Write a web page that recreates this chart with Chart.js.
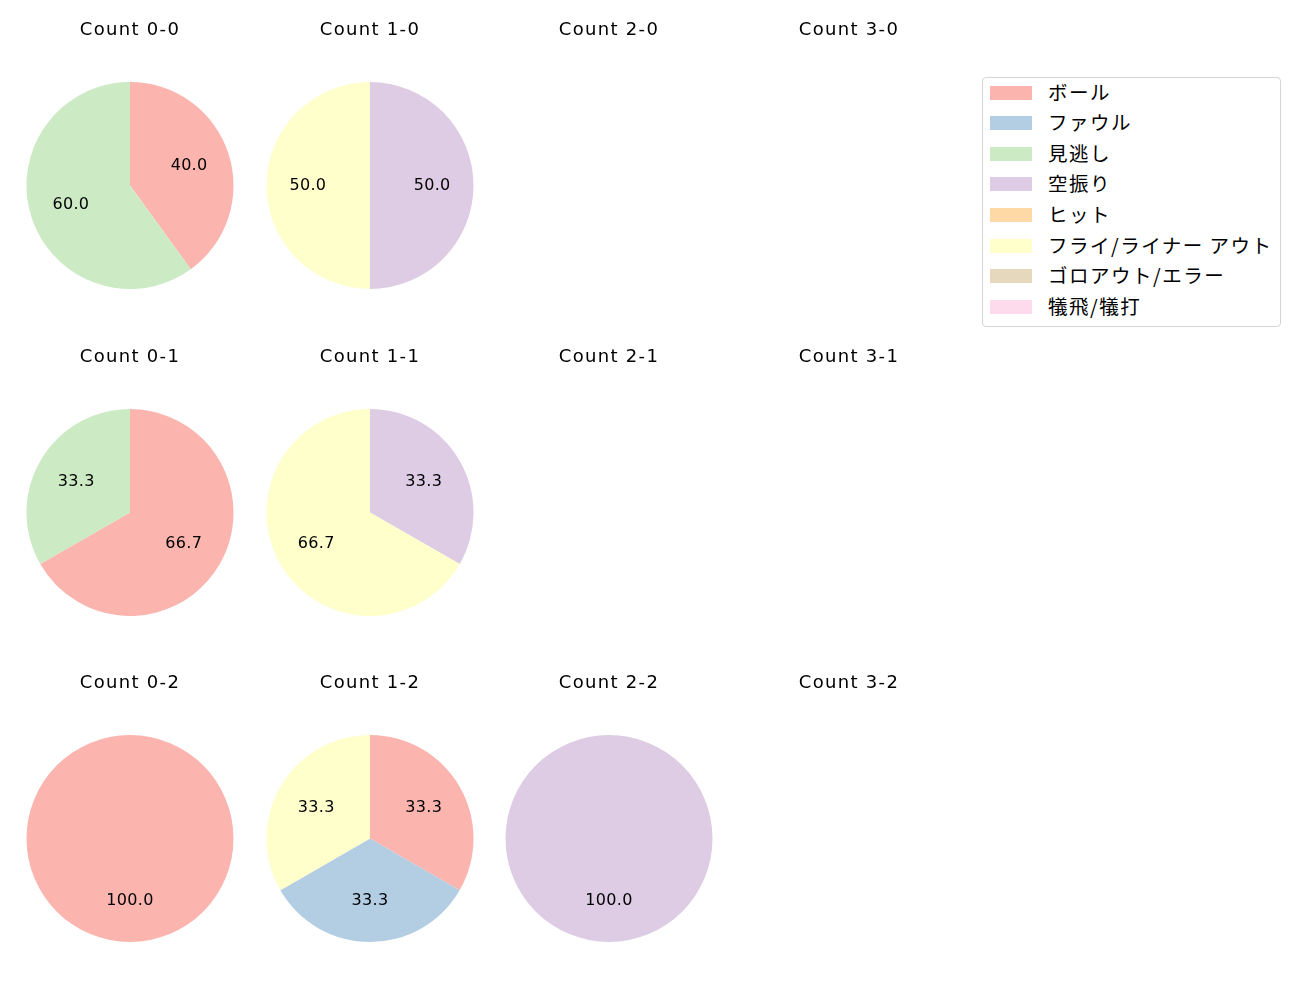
<!DOCTYPE html>
<html>
<head>
<meta charset="utf-8">
<script src="https://cdn.jsdelivr.net/npm/chart.js@4"></script>
<style>
  body { margin: 0; background: #fff; width: 1300px; height: 1000px; position: relative; overflow: hidden; font-family: "Noto Sans CJK JP", sans-serif; }
  .cell { position: absolute; width: 240px; height: 280px; }
  #legend { position: absolute; left: 982px; top: 77px; width: 297px; height: 248px; border: 1px solid #d5d5d5; border-radius: 4px; box-sizing: content-box; }
  .item { position: absolute; left: 7px; height: 24px; font-size: 19.5px; letter-spacing: 1.5px; color: #000; line-height: 24px; white-space: nowrap; }
  .item span.sw { position: absolute; left: 0; top: 6px; width: 42px; height: 14px; }
  .item span.tx { position: absolute; left: 58px; top: 0; }
</style>
</head>
<body>
<div id="legend"></div>
<script>
const categories = ['ボール', 'ファウル', '見逃し', '空振り', 'ヒット', 'フライ/ライナー アウト', 'ゴロアウト/エラー', '犠飛/犠打'];
const colors = ['#fbb4ae', '#b3cde3', '#ccebc5', '#decbe4', '#fed9a6', '#ffffcc', '#e5d8bd', '#fddaec'];
const counts = ['0-0', '1-0', '2-0', '3-0', '0-1', '1-1', '2-1', '3-1', '0-2', '1-2', '2-2', '3-2'];

// percentages per count, same order as counts
const ball      = [40.0, 0, 0, 0, 66.7, 0, 0, 0, 100.0, 33.3, 0, 0];
const foul      = [0, 0, 0, 0, 0, 0, 0, 0, 0, 33.3, 0, 0];
const looking   = [60.0, 0, 0, 0, 33.3, 0, 0, 0, 0, 0, 0, 0];
const swinging  = [0, 50.0, 0, 0, 0, 33.3, 0, 0, 0, 0, 100.0, 0];
const hit       = [0, 0, 0, 0, 0, 0, 0, 0, 0, 0, 0, 0];
const flyOut    = [0, 50.0, 0, 0, 0, 66.7, 0, 0, 0, 33.3, 0, 0];
const groundOut = [0, 0, 0, 0, 0, 0, 0, 0, 0, 0, 0, 0];
const sacrifice = [0, 0, 0, 0, 0, 0, 0, 0, 0, 0, 0, 0];
const series = [ball, foul, looking, swinging, hit, flyOut, groundOut, sacrifice];

const latin = '"DejaVu Sans", sans-serif';

// wider title lettering, like the reference font
const spacing = {
  id: 'spacing',
  beforeDraw(chart) { chart.ctx.letterSpacing = '1.3px'; }
};

const pctLabels = {
  id: 'pctLabels',
  afterDatasetsDraw(chart) {
    const ctx = chart.ctx;
    const meta = chart.getDatasetMeta(0);
    const data = chart.data.datasets[0].data;
    ctx.save();
    ctx.letterSpacing = '0.3px';
    ctx.font = '16px ' + latin;
    ctx.fillStyle = '#000';
    ctx.textAlign = 'center';
    ctx.textBaseline = 'middle';
    meta.data.forEach((arc, i) => {
      if (!data[i]) return;
      const p = arc.getProps(['x', 'y', 'startAngle', 'endAngle', 'outerRadius'], true);
      const mid = (p.startAngle + p.endAngle) / 2;
      const r = p.outerRadius * 0.6;
      ctx.fillText(data[i].toFixed(1), p.x + Math.cos(mid) * r, p.y + Math.sin(mid) * r);
    });
    ctx.restore();
  }
};

const colX = [10, 249.5, 489, 729];
const rowY = [10, 337, 663];

counts.forEach((c, k) => {
  const div = document.createElement('div');
  div.className = 'cell';
  div.style.left = colX[k % 4] + 'px';
  div.style.top = rowY[Math.floor(k / 4)] + 'px';
  const cv = document.createElement('canvas');
  div.appendChild(cv);
  document.body.appendChild(div);
  const vals = series.map(s => s[k]);
  const empty = vals.every(v => v === 0);
  new Chart(cv, {
    type: 'pie',
    data: {
      labels: categories,
      datasets: [{
        data: empty ? [] : vals,
        backgroundColor: colors,
        borderWidth: 0
      }]
    },
    options: {
      responsive: true,
      maintainAspectRatio: false,
      animation: false,
      events: [],
      layout: { padding: { left: 16.5, right: 16.5, top: 0, bottom: 1 } },
      plugins: {
        legend: { display: false },
        tooltip: { enabled: false },
        title: {
          display: true,
          text: 'Count ' + c,
          color: '#000',
          font: { family: latin, size: 18, weight: 'normal', lineHeight: 1.2 },
          padding: { top: 9.5, bottom: 40.9 }
        }
      }
    },
    plugins: [spacing, pctLabels]
  });
});

const legend = document.getElementById('legend');
categories.forEach((name, i) => {
  const it = document.createElement('div');
  it.className = 'item';
  it.style.top = (1.5 + i * 30.6) + 'px';
  it.innerHTML = '<span class="sw" style="background:' + colors[i] + '"></span><span class="tx"></span>';
  it.querySelector('.tx').textContent = name;
  legend.appendChild(it);
});
</script>
</body>
</html>
